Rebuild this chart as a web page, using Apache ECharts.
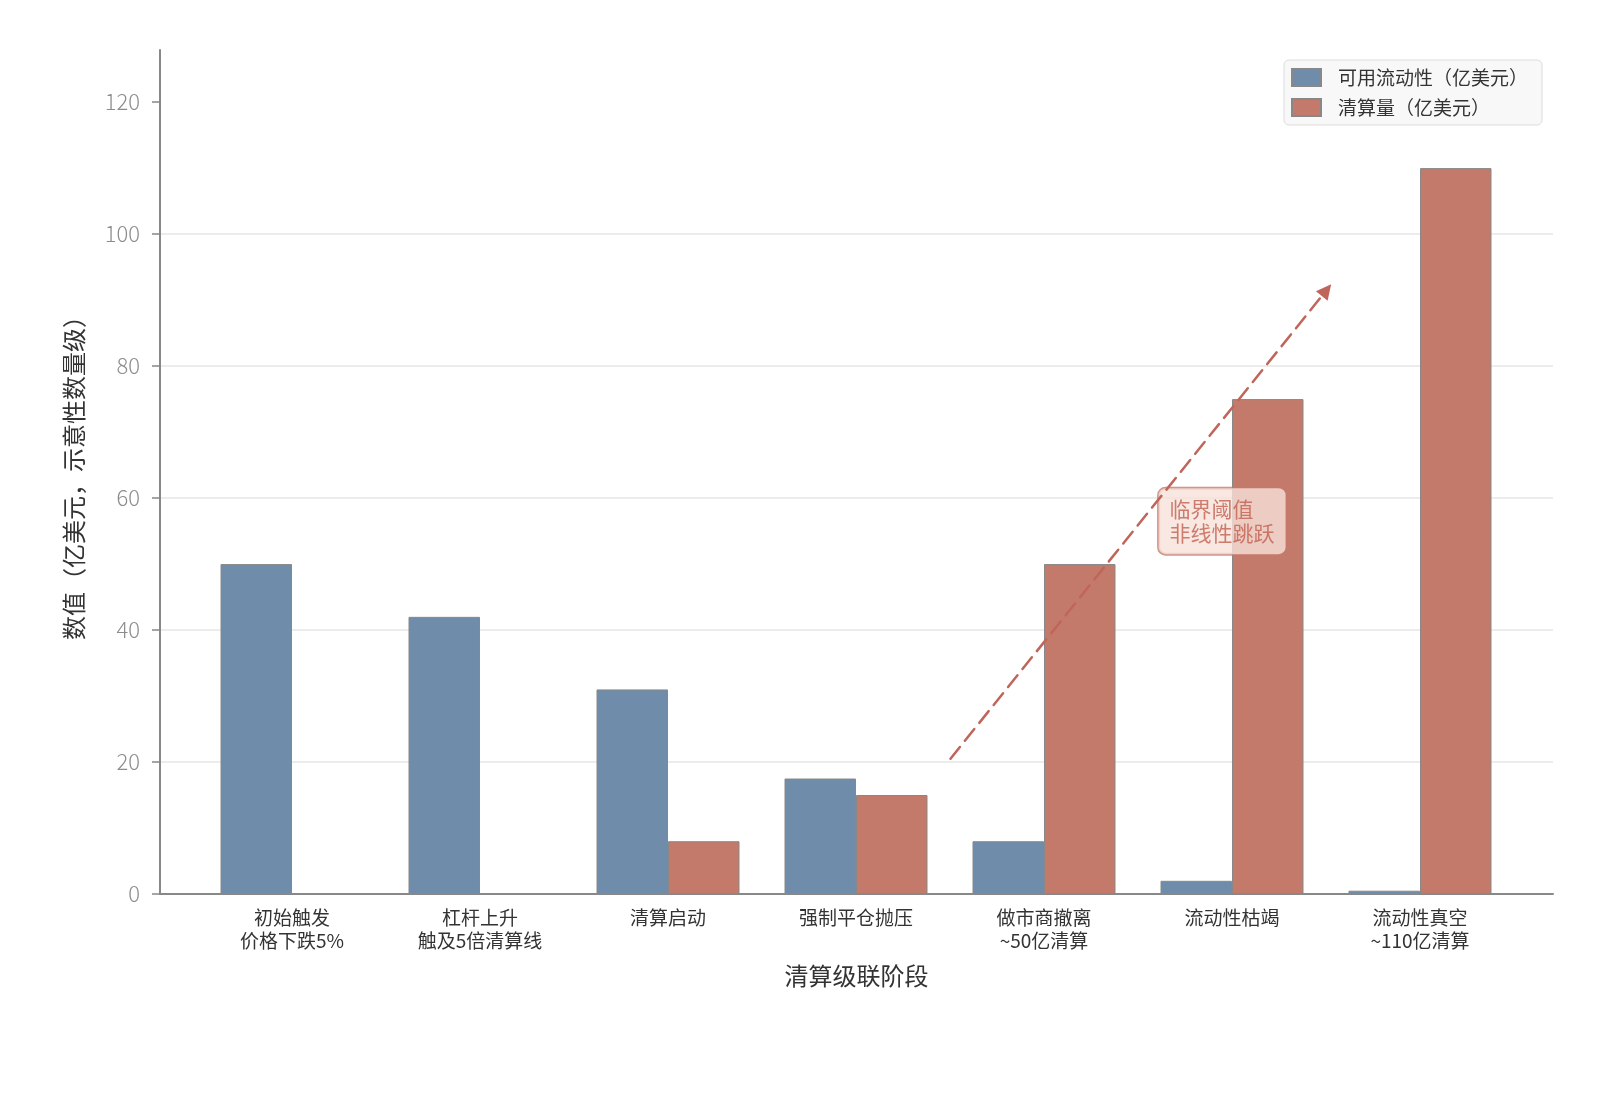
<!DOCTYPE html>
<html>
<head>
<meta charset="utf-8">
<script src="https://cdn.jsdelivr.net/npm/echarts@6/dist/echarts.min.js"></script>
<style>
html,body{margin:0;padding:0;background:#fff;}
#main{width:1600px;height:1111px;}
</style>
</head>
<body>
<div id="main"></div>
<script>
// ---- data ----
const categories = ['初始触发\n价格下跌5%', '杠杆上升\n触及5倍清算线', '清算启动', '强制平仓抛压', '做市商撤离\n~50亿清算', '流动性枯竭', '流动性真空\n~110亿清算'];
const liquidity = [50, 42, 31, 17.5, 8, 2, 0.5];
const liquidation = [0, 0, 8, 15, 50, 75, 110];
const seriesNames = ['可用流动性（亿美元）', '清算量（亿美元）'];
const yTicks = [0, 20, 40, 60, 80, 100, 120];
const arrowFrom = [3.5, 20.5];
const arrowTo = [5.5, 91.5];
const noteAnchor = [4.607, 56.5];
const noteText = '临界阈值\n非线性跳跃';
const xName = '清算级联阶段';
const yName = '数值（亿美元，示意性数量级）';

const FONT = '"Noto Sans CJK SC", "Noto Sans", sans-serif';
const BLUE = '#6f8dab';
const RED = '#c47a6a';
const YMAX = 127.9;

const chart = echarts.init(document.getElementById('main'), null, {renderer: 'canvas'});
chart.setOption({
  animation: false,
  backgroundColor: '#ffffff',
  textStyle: {fontFamily: FONT},
  legend: {
    data: seriesNames,
    icon: 'rect',
    orient: 'vertical',
    right: 58,
    top: 60,
    itemWidth: 29,
    itemHeight: 17,
    itemGap: 11,
    padding: [8, 14, 8, 7],
    backgroundColor: '#f8f8f8',
    borderColor: '#dcdcdc',
    borderWidth: 1,
    borderRadius: 5,
    textStyle: {fontSize: 19, color: '#333', fontFamily: FONT, padding: [0, 0, 0, 12]}
  },
  grid: [
    {left: 160, right: 47, top: 50, bottom: 217, containLabel: false},
    {left: 198, right: 86, top: 50, bottom: 217, containLabel: false}
  ],
  xAxis: [
    {
      type: 'value', gridIndex: 0, min: -0.705, max: 6.705,
      axisLine: {show: true, onZero: false, lineStyle: {color: '#888', width: 2}},
      axisTick: {show: false}, axisLabel: {show: false}, splitLine: {show: false},
      name: xName, nameLocation: 'middle', nameGap: 70,
      nameTextStyle: {fontSize: 24, color: '#333', fontFamily: FONT}
    },
    {
      type: 'category', gridIndex: 1, data: categories,
      axisLine: {show: false}, axisTick: {show: false},
      axisLabel: {fontSize: 19, color: '#333', lineHeight: 23.5, margin: 12, fontFamily: FONT, interval: 0}
    }
  ],
  yAxis: [
    {
      type: 'value', gridIndex: 0, min: 0, max: YMAX, interval: 20,
      axisLine: {show: true, onZero: false, lineStyle: {color: '#888', width: 2}},
      axisTick: {show: true, length: 8, lineStyle: {color: '#888', width: 1.5}, customValues: yTicks},
      axisLabel: {fontSize: 22, color: '#8c8c8c', margin: 20, fontFamily: FONT, fontWeight: 300, customValues: yTicks},
      splitLine: {show: true, showMaxLine: false, lineStyle: {color: '#e6e6e6', width: 1.5}},
      name: yName, nameLocation: 'middle', nameGap: 74, nameRotate: 90,
      nameTextStyle: {fontSize: 24, color: '#333', fontFamily: FONT}
    },
    {
      type: 'value', gridIndex: 1, min: 0, max: YMAX, show: false, splitLine: {show: false}
    }
  ],
  series: [
    {
      name: seriesNames[0], type: 'bar', xAxisIndex: 1, yAxisIndex: 1,
      data: liquidity, barWidth: 71.5, barGap: '0%',
      itemStyle: {color: BLUE, borderColor: '#888', borderWidth: 1}
    },
    {
      name: seriesNames[1], type: 'bar', xAxisIndex: 1, yAxisIndex: 1,
      data: liquidation, barWidth: 71.5, barGap: '0%',
      itemStyle: {color: RED, borderColor: '#888', borderWidth: 1}
    },
    {
      type: 'scatter', xAxisIndex: 0, yAxisIndex: 0, silent: true,
      data: [noteAnchor], symbolSize: 0,
      label: {
        show: true, position: 'right', distance: 0,
        formatter: noteText,
        fontSize: 21, lineHeight: 24, color: '#c0604f', fontFamily: FONT,
        backgroundColor: '#f7e1db', borderColor: '#c4796a', borderWidth: 1.5, borderRadius: 7,
        padding: [9, 11, 9, 11], align: 'left'
      },
      markLine: {
        silent: true, animation: false,
        symbol: ['none', 'triangle'], symbolSize: 15,
        label: {show: false},
        lineStyle: {color: '#c0655a', width: 2.5, type: [15, 8], cap: 'round'},
        data: [[{coord: arrowFrom}, {coord: arrowTo}]]
      }
    }
  ]
});
</script>
</body>
</html>
